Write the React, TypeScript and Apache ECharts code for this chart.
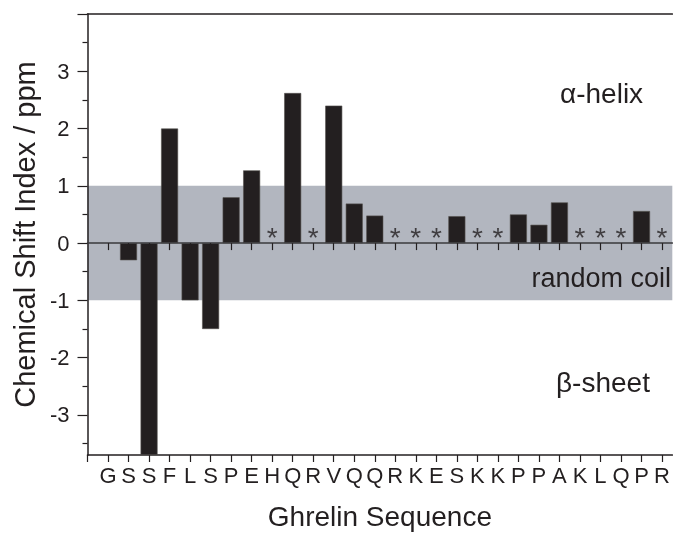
import React, { useEffect, useRef } from "react";
import * as echarts from "echarts";

const residues = ["G", "S", "S", "F", "L", "S", "P", "E", "H", "Q", "R", "V", "Q", "Q", "R", "K", "E", "S", "K", "K", "P", "P", "A", "K", "L", "Q", "P", "R"];
const csiValues: (number | null)[] = [null, -0.3, -3.7, 2.0, -1.0, -1.5, 0.8, 1.27, null, 2.62, null, 2.4, 0.69, 0.48, null, null, null, 0.47, null, null, 0.5, 0.32, 0.71, null, null, null, 0.56, null];
const unassigned = [8, 10, 14, 15, 16, 18, 19, 23, 24, 25, 27];
const yMajorTicks = [-3, -2, -1, 0, 1, 2, 3, 4];
const yLabelValues = [-3, -2, -1, 0, 1, 2, 3];
const yMinorTicks = [-3.5, -2.5, -1.5, -0.5, 0.5, 1.5, 2.5, 3.5];
const randomCoilBand = [-1, 1];
const regionLabels = ["α-helix", "random coil", "β-sheet"];

const INK = "#231f20";
const FONT = "Liberation Sans";

export default function App() {
  const ref = useRef<HTMLDivElement>(null);
  useEffect(() => {
    if (!ref.current) return;
    const chart = echarts.init(ref.current, undefined, { renderer: "svg" });
    const xTicks = [-1, ...residues.map((_, i) => i)];
    const xLabelVals = residues.map((_, i) => i);
    const barData = csiValues
      .map((v, i) => (v === null ? null : [i, v]))
      .filter((d) => d !== null);
    chart.setOption({
      animation: false,
      textStyle: { fontFamily: FONT, color: INK },
      grid: { left: 87.5, right: 0, top: 14, bottom: 80, containLabel: false },
      xAxis: [
        {
          type: "value",
          position: "bottom",
          min: -1,
          max: 27.5,
          axisLine: { onZero: false, lineStyle: { color: INK, width: 1.5 } },
          axisTick: { customValues: xTicks, length: 7, lineStyle: { color: INK, width: 1.2 } },
          axisLabel: {
            customValues: xLabelVals,
            formatter: (v: number) => residues[v] ?? "",
            fontSize: 22,
            color: INK,
            margin: 9,
            fontFamily: FONT,
          },
          splitLine: { show: false },
          name: "Ghrelin Sequence",
          nameLocation: "middle",
          nameGap: 47,
          nameTextStyle: { fontSize: 28, color: INK, fontFamily: FONT },
        },
        {
          type: "value",
          position: "bottom",
          min: -1,
          max: 27.5,
          z: 5,
          axisLine: { onZero: true, onZeroAxisIndex: 0, lineStyle: { color: "#3a3a3c", width: 1.5 } },
          axisTick: { customValues: xLabelVals, length: 7, lineStyle: { color: INK, width: 1.2 } },
          axisLabel: { show: false },
          splitLine: { show: false },
        },
        {
          type: "value",
          position: "top",
          min: -1,
          max: 27.5,
          axisLine: { onZero: false, lineStyle: { color: INK, width: 1.5 } },
          axisTick: { show: false },
          axisLabel: { show: false },
          splitLine: { show: false },
        },
      ],
      yAxis: [
        {
          type: "value",
          position: "left",
          min: -3.7,
          max: 4,
          z: 5,
          axisLine: { onZero: false, lineStyle: { color: INK, width: 1.5 } },
          axisTick: { customValues: yMajorTicks, length: 10, lineStyle: { color: INK, width: 1.2 } },
          axisLabel: { customValues: yLabelValues, fontSize: 22, color: INK, margin: 18, fontFamily: FONT },
          splitLine: { show: false },
          name: "Chemical Shift Index / ppm",
          nameLocation: "middle",
          nameGap: 44,
          nameTextStyle: { fontSize: 29, color: INK, fontFamily: FONT },
        },
        {
          type: "value",
          position: "left",
          min: -3.7,
          max: 4,
          z: 5,
          axisLine: { show: false, onZero: false },
          axisTick: { customValues: yMinorTicks, length: 5, lineStyle: { color: INK, width: 1.2 } },
          axisLabel: { show: false },
          splitLine: { show: false },
        },
      ],
      series: [
        {
          type: "bar",
          xAxisIndex: 0,
          yAxisIndex: 0,
          data: barData,
          barWidth: 17,
          itemStyle: { color: INK, borderColor: "#55524f", borderWidth: 0.6 },
          markArea: {
            silent: true,
            itemStyle: { color: "#b2b6bf" },
            data: [[{ yAxis: randomCoilBand[0] }, { yAxis: randomCoilBand[1] }]],
          },
        },
        {
          type: "scatter",
          xAxisIndex: 0,
          yAxisIndex: 0,
          z: 3,
          symbolSize: 0,
          data: unassigned.map((i) => [i, 0.1]),
          label: {
            show: true,
            position: "inside",
            formatter: "*",
            fontSize: 28,
            color: INK,
            fontFamily: FONT,
          },
        },
      ],
      graphic: [
        { type: "text", z: 20, x: 560, y: 93, style: { text: regionLabels[0], fontSize: 28, fill: INK, fontFamily: FONT, textVerticalAlign: "middle" } },
        { type: "text", z: 20, x: 671, y: 278, style: { text: regionLabels[1], fontSize: 27, fill: INK, fontFamily: FONT, textAlign: "right", textVerticalAlign: "middle" } },
        { type: "text", z: 20, x: 556, y: 382, style: { text: regionLabels[2], fontSize: 28, fill: INK, fontFamily: FONT, textVerticalAlign: "middle" } },
      ],
    });
    return () => chart.dispose();
  }, []);
  return <div ref={ref} style={{ position: "fixed", left: 0, top: 0, width: 673, height: 535 }} />;
}
